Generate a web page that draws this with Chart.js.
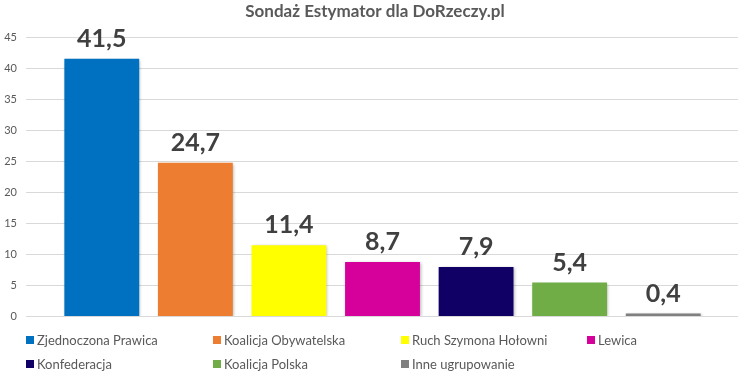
<!DOCTYPE html>
<html>
<head>
<meta charset="utf-8">
<script src="https://cdn.jsdelivr.net/npm/chart.js@4/dist/chart.umd.min.js"></script>
<style>
  body { margin: 0; background: #fff; }
  #wrap { position: relative; width: 750px; height: 375px; }
  #legend { position: absolute; left: 0; top: 0; width: 750px; height: 375px; pointer-events: none;
    font-family: Lato, sans-serif; font-size: 13px; color: #595959; }
  .item { position: absolute; display: flex; align-items: center; height: 16px; white-space: nowrap; }
  .box { width: 8px; height: 8px; margin-right: 3px; }
</style>
</head>
<body>
<div id="wrap">
  <canvas id="chart" width="750" height="375"></canvas>
  <div id="legend"></div>
</div>
<script>
const chartTitle = 'Sondaż Estymator dla DoRzeczy.pl';
const parties = ['Zjednoczona Prawica', 'Koalicja Obywatelska', 'Ruch Szymona Hołowni', 'Lewica', 'Konfederacja', 'Koalicja Polska', 'Inne ugrupowanie'];
const support = [41.5, 24.7, 11.4, 8.7, 7.9, 5.4, 0.4];
const colors = ['#0070C0', '#ED7D31', '#FFFF00', '#D6009A', '#100066', '#70AD47', '#7F7F7F'];
const yTicks = [0, 5, 10, 15, 20, 25, 30, 35, 40, 45];

// title drawn by hand so the plot top lands where the original has it
const titlePlugin = {
  id: 'topTitle',
  afterDraw(chart) {
    const ctx = chart.ctx;
    ctx.save();
    ctx.font = 'bold 17px Lato';
    ctx.fillStyle = '#595959';
    ctx.textAlign = 'center';
    ctx.textBaseline = 'middle';
    ctx.fillText(chartTitle, 375, 12);
    ctx.restore();
  }
};

// gridlines run wider than the plot area, like the Excel original
const gridPlugin = {
  id: 'grid',
  beforeDatasetsDraw(chart) {
    const ctx = chart.ctx;
    const y = chart.scales.y;
    ctx.save();
    ctx.strokeStyle = '#D9D9D9';
    ctx.lineWidth = 1;
    yTicks.forEach(v => {
      const py = Math.round(y.getPixelForValue(v)) + 0.5;
      ctx.beginPath();
      ctx.moveTo(26, py);
      ctx.lineTo(738, py);
      ctx.stroke();
    });
    ctx.restore();
  }
};

const shadowPlugin = {
  id: 'shadow',
  beforeDatasetDraw(chart) {
    const ctx = chart.ctx;
    ctx.save();
    ctx.shadowColor = 'rgba(0,0,0,0.3)';
    ctx.shadowBlur = 3;
    ctx.shadowOffsetX = 1;
    ctx.shadowOffsetY = 1;
  },
  afterDatasetDraw(chart) {
    chart.ctx.restore();
  }
};

const labelPlugin = {
  id: 'valueLabels',
  afterDatasetsDraw(chart) {
    const ctx = chart.ctx;
    ctx.save();
    ctx.font = 'bold 25px Lato';
    ctx.fillStyle = '#404040';
    ctx.textAlign = 'center';
    ctx.textBaseline = 'alphabetic';
    chart.getDatasetMeta(0).data.forEach((bar, i) => {
      ctx.fillText(String(support[i]).replace('.', ','), bar.x, bar.y - 12);
    });
    ctx.restore();
  }
};

new Chart(document.getElementById('chart'), {
  type: 'bar',
  data: {
    labels: parties,
    datasets: [{
      data: support,
      backgroundColor: colors,
      borderWidth: 0,
      categoryPercentage: 0.8,
      barPercentage: 1
    }]
  },
  options: {
    responsive: false,
    animation: false,
    layout: { padding: { left: 0, right: 40, top: 37, bottom: 59 } },
    plugins: {
      legend: { display: false },
      tooltip: { enabled: false },
      title: { display: false }
    },
    scales: {
      x: { display: false },
      y: {
        min: 0,
        max: 45,
        afterFit(scale) {
          scale.width = 55;
          scale.paddingTop = 0;
          scale.paddingBottom = 0;
        },
        afterBuildTicks(scale) { scale.ticks = yTicks.map(v => ({ value: v })); },
        grid: { display: false, drawTicks: false },
        border: { display: false },
        ticks: {
          padding: 38,
          color: '#595959',
          font: { family: 'Lato', size: 11 }
        }
      }
    }
  },
  plugins: [gridPlugin, shadowPlugin, labelPlugin, titlePlugin]
});

// legend laid out in fixed columns like the original
const legendCols = [26, 213, 401, 587];
const legendRows = [332, 356];
const legend = document.getElementById('legend');
parties.forEach((name, i) => {
  const item = document.createElement('div');
  item.className = 'item';
  item.style.left = legendCols[i % 4] + 'px';
  item.style.top = legendRows[Math.floor(i / 4)] + 'px';
  item.innerHTML = '<span class="box" style="background:' + colors[i] + '"></span>' + name;
  legend.appendChild(item);
});
</script>
</body>
</html>
